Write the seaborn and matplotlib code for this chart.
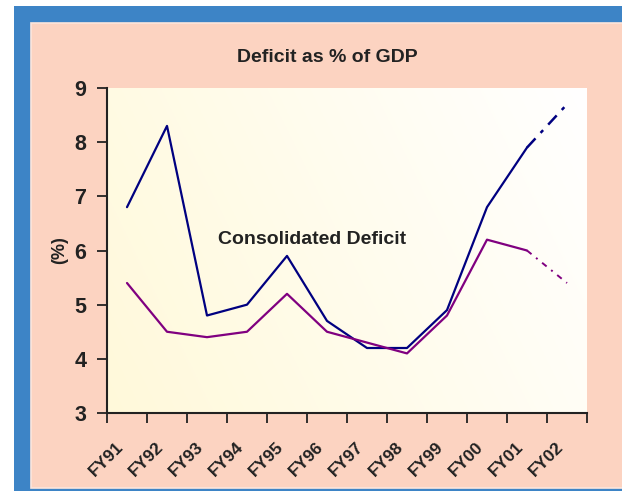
import numpy as np
import pandas as pd
import matplotlib
matplotlib.use("Agg")
from matplotlib import pyplot as plt
from matplotlib.patches import Rectangle
from matplotlib.transforms import ScaledTranslation
import seaborn as sns

# data
years = ['FY91', 'FY92', 'FY93', 'FY94', 'FY95', 'FY96',
         'FY97', 'FY98', 'FY99', 'FY00', 'FY01', 'FY02']
consolidated = [6.8, 8.3, 4.8, 5.0, 5.9, 4.7, 4.2, 4.2, 4.9, 6.8, 7.9, 8.7]
centre = [5.4, 4.5, 4.4, 4.5, 5.2, 4.5, 4.3, 4.1, 4.8, 6.2, 6.0, 5.4]
n_actual = 11  # FY02 is a projection (dashed)

sns.set_style("white")
plt.rcParams['font.family'] = ['Liberation Sans', 'DejaVu Sans']

W, H = 622, 491
fig = plt.figure(figsize=(W / 100, H / 100), dpi=100)
fig.patch.set_facecolor('white')

# blue frame and peach panel
fig.patches.append(Rectangle((14 / W, 0), 1, (H - 6) / H, transform=fig.transFigure,
                             facecolor='#3D84C6', edgecolor='none', zorder=-3))
fig.patches.append(Rectangle((31 / W, 3 / H), 1, (488 - 23) / H, transform=fig.transFigure,
                             facecolor='#FCD3C1', edgecolor='#FDE6DC', lw=1.2, zorder=-2))

ax = fig.add_axes([107 / W, 1 - 413 / H, (587 - 107) / W, (413 - 88) / H])
ax.set_facecolor('none')
ax.set_zorder(2)

# gradient fill of the plot area
gx, gy = np.meshgrid(np.linspace(0, 1, 200), np.linspace(0, 1, 200))
t = np.clip(0.75 * gx + 0.25 * (1 - gy), 0, 1)
c0 = np.array([255, 249, 218]) / 255
c1 = np.array([255, 255, 255]) / 255
img = c0[None, None, :] * (1 - t[..., None]) + c1[None, None, :] * t[..., None]
ax.imshow(img, extent=[-0.5, 11.5, 3, 9], aspect='auto', zorder=0, origin='upper')

df = pd.DataFrame({'pos': np.arange(len(years)), 'year': years,
                   'consolidated': consolidated, 'centre': centre})
solid = df.iloc[:n_actual]
proj = df.iloc[n_actual - 1:]

sns.lineplot(data=solid, x='pos', y='consolidated', color='#000080', lw=1.6, ax=ax, zorder=3)
sns.lineplot(data=solid, x='pos', y='centre', color='#800080', lw=1.6, ax=ax, zorder=3)
sns.lineplot(data=proj, x='pos', y='consolidated', color='#000080', lw=1.8, ax=ax, zorder=3,
             linestyle=(0, (5, 3, 1.5, 3)))
sns.lineplot(data=proj, x='pos', y='centre', color='#800080', lw=1.4, ax=ax, zorder=3,
             linestyle=(0, (3, 3, 1, 3)))

ax.set_xlim(-0.5, 11.5)
ax.set_ylim(3, 9)
ax.set_yticks(range(3, 10))
ax.set_yticklabels([str(v) for v in range(3, 10)], fontsize=15.5, fontweight='bold', color='#222222')

ax.set_xticks(np.arange(-0.5, 12, 1))
ax.set_xticklabels([])
ax.set_xticks(df['pos'], minor=True)
ax.set_xticklabels(years, minor=True, rotation=45, ha='right', rotation_mode='anchor',
                   fontsize=12.5, fontweight='bold', color='#222222')
ax.tick_params(axis='x', which='minor', length=0, pad=19)
ax.tick_params(axis='both', which='major', direction='out', length=7, width=1.3,
               color='#222222', left=True, bottom=True)
ax.tick_params(axis='y', pad=8)
shift = ScaledTranslation(-11 / 100, 0, fig.dpi_scale_trans)
for lab in ax.get_xticklabels(minor=True):
    lab.set_transform(lab.get_transform() + shift)

for side in ['top', 'right']:
    ax.spines[side].set_visible(False)
for side in ['left', 'bottom']:
    ax.spines[side].set_color('#222222')
    ax.spines[side].set_linewidth(1.5)
    ax.spines[side].set_zorder(4)

ax.set_xlabel('')
ax.set_ylabel('(%)', fontsize=13, fontweight='bold', color='#222222', labelpad=4)
ax.text(4.63, 6.2, 'Consolidated Deficit', fontsize=14, fontweight='bold',
        color='#222222', ha='center', va='center', zorder=5)

fig.text(327 / W, 1 - 57 / H, 'Deficit as % of GDP', fontsize=14, fontweight='bold',
         color='#222222', ha='center', va='center')

fig.savefig('out.png', dpi=100)
